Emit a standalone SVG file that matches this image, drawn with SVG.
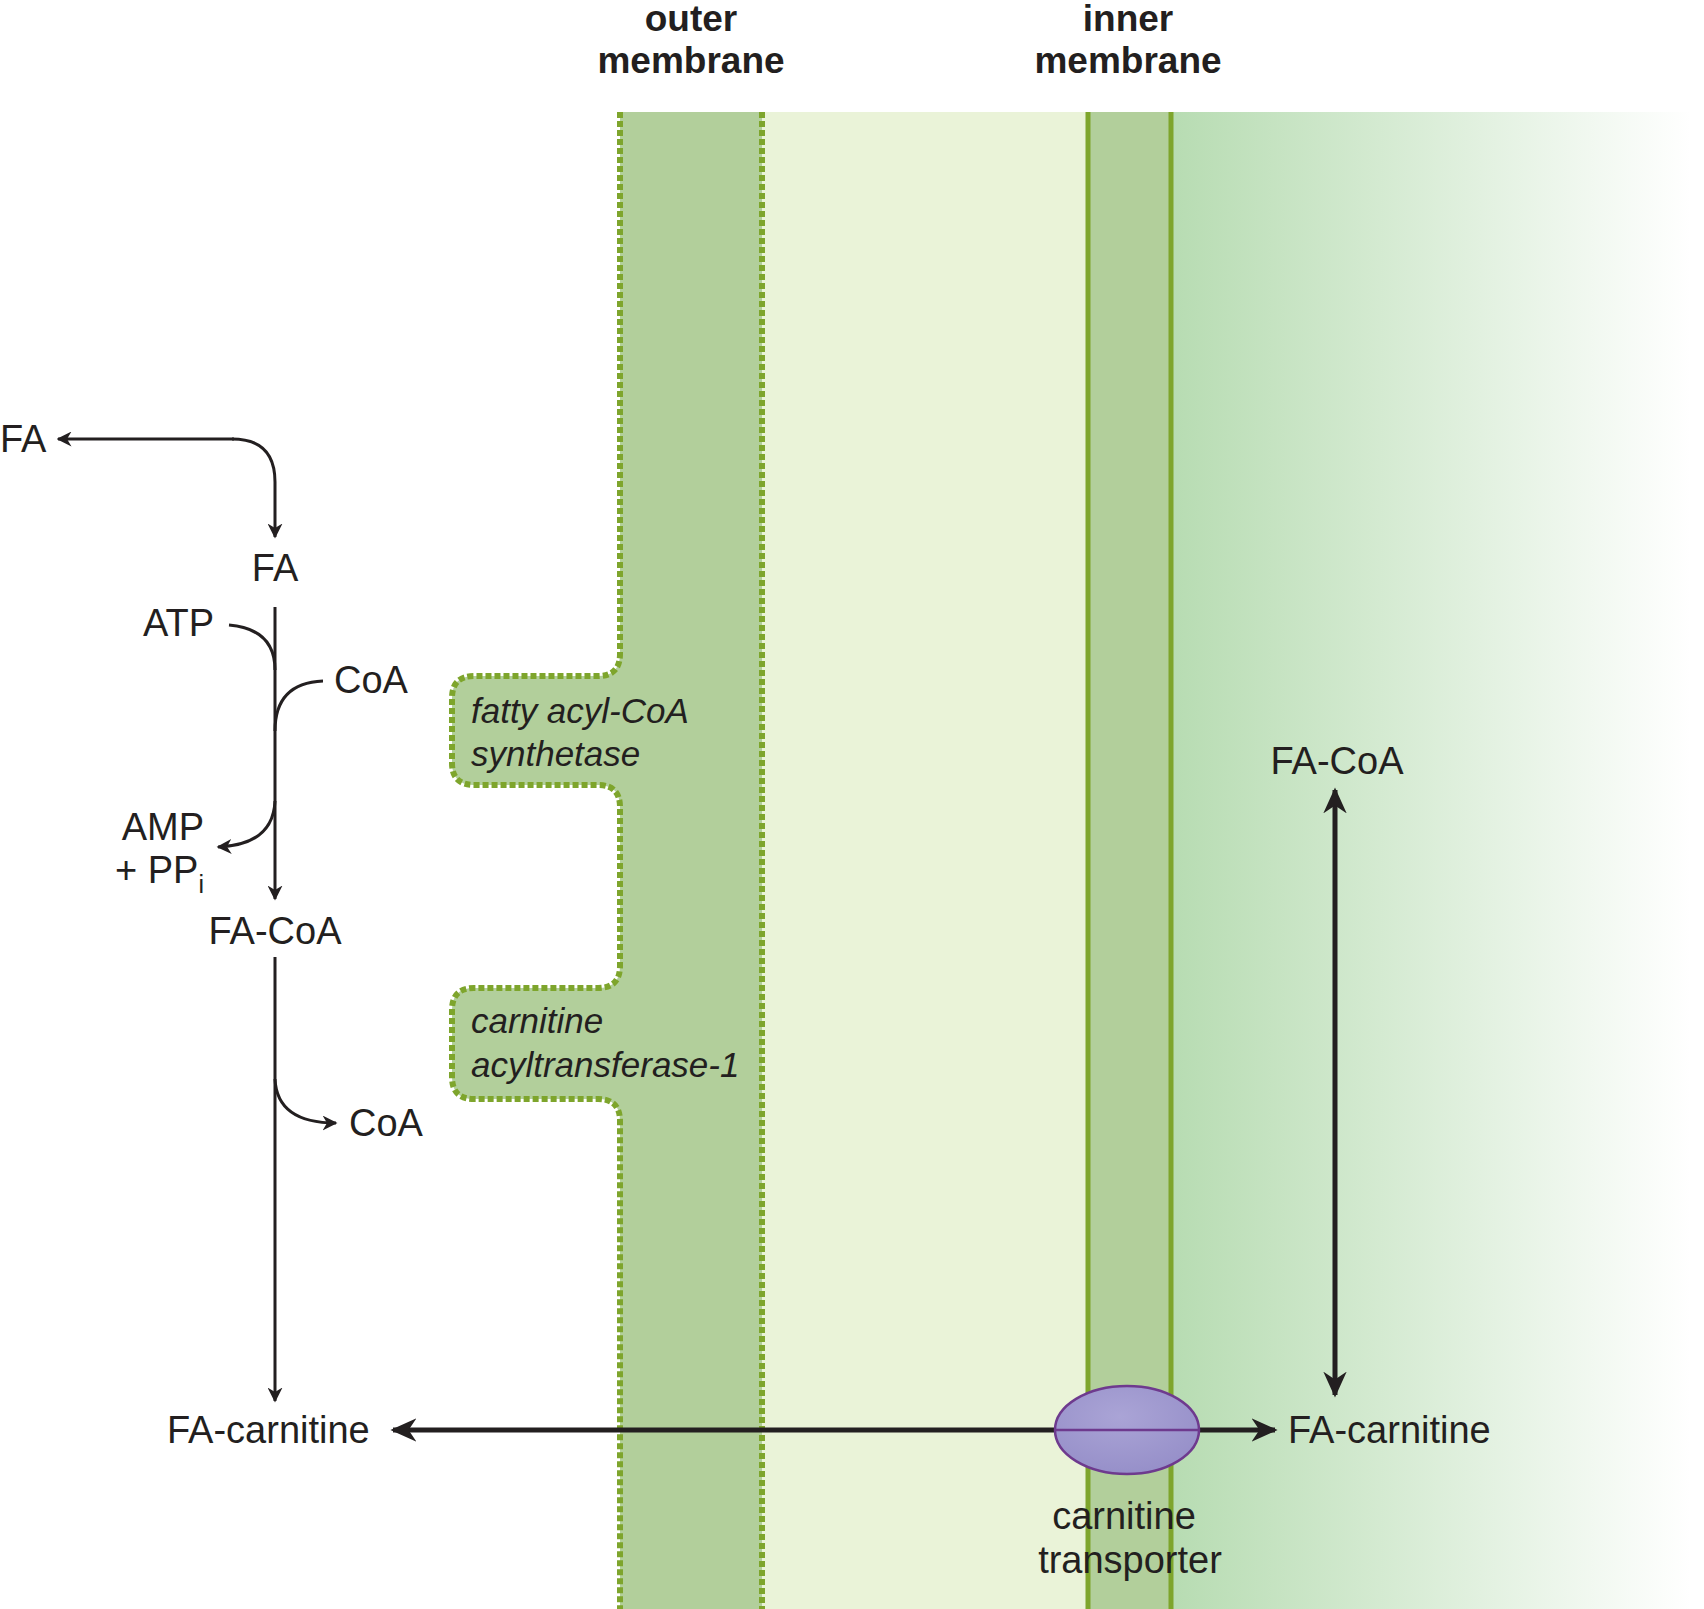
<svg xmlns="http://www.w3.org/2000/svg" width="1704" height="1609" viewBox="0 0 1704 1609">
<defs>
<linearGradient id="mx" x1="0" y1="0" x2="1" y2="0"><stop offset="0" stop-color="#b7dcb2"/><stop offset="1" stop-color="#ffffff"/></linearGradient>
<radialGradient id="tr" cx="0.45" cy="0.35" r="0.7"><stop offset="0" stop-color="#aaa4d6"/><stop offset="1" stop-color="#958ec8"/></radialGradient>
<marker id="ah" viewBox="0 0 10 10" refX="9" refY="5" markerWidth="15" markerHeight="15" markerUnits="userSpaceOnUse" orient="auto"><path d="M0,0 L10,5 L0,10 L3,5 Z" fill="#231f20"/></marker>
<marker id="ahs" viewBox="0 0 10 10" refX="9" refY="5" markerWidth="26" markerHeight="26" markerUnits="userSpaceOnUse" orient="auto"><path d="M0,0.5 L10,5 L0,9.5 L3,5 Z" fill="#231f20"/></marker>
</defs>
<style>
text{font-family:"Liberation Sans",Arial,sans-serif;fill:#231f20;font-size:38px}
.b{font-weight:bold;font-size:37px}
.i{font-style:italic;font-size:35px}
.ln{fill:none;stroke:#231f20;stroke-width:3}
.th{fill:none;stroke:#231f20;stroke-width:5}
.dot{fill:none;stroke:#7ea52c;stroke-width:6;stroke-dasharray:6 3}
</style>
<g id="compartments">
<rect x="762" y="112" width="324" height="1497" fill="#eaf3d8"/>
<rect x="1171" y="112" width="520" height="1497" fill="url(#mx)"/>
<rect x="1086" y="112" width="85" height="1497" fill="#b2cf9b"/>
<line x1="1088" y1="112" x2="1088" y2="1609" stroke="#7ea52c" stroke-width="5"/>
<line x1="1171" y1="112" x2="1171" y2="1609" stroke="#7ea52c" stroke-width="5"/>
</g>
<g id="outer-membrane">
<path d="M620,112 V654 q0,22 -22,22 H474 q-22,0 -22,22 V763 q0,22 22,22 H598 q22,0 22,22 V966 q0,22 -22,22 H474 q-22,0 -22,22 V1077 q0,22 22,22 H598 q22,0 22,22 V1609 H762 V112 Z" fill="#b2cf9b"/>
<path class="dot" d="M620,112 V654 q0,22 -22,22 H474 q-22,0 -22,22 V763 q0,22 22,22 H598 q22,0 22,22 V966 q0,22 -22,22 H474 q-22,0 -22,22 V1077 q0,22 22,22 H598 q22,0 22,22 V1609"/>
<line class="dot" x1="762" y1="112" x2="762" y2="1609"/>
</g>
<g id="labels-membranes">
<text class="b" x="691" y="31" text-anchor="middle">outer</text>
<text class="b" x="691" y="73" text-anchor="middle">membrane</text>
<text class="b" x="1128" y="31" text-anchor="middle">inner</text>
<text class="b" x="1128" y="73" text-anchor="middle">membrane</text>
</g>
<g id="enzyme-synthetase"><text class="i" x="471" y="723">fatty acyl-CoA</text><text class="i" x="471" y="766">synthetase</text></g>
<g id="enzyme-cat1"><text class="i" x="471" y="1033">carnitine</text><text class="i" x="471" y="1077">acyltransferase-1</text></g>
<g id="connectors">
<path class="ln" d="M234,439 H58" marker-end="url(#ah)"/>
<path class="ln" d="M232,439 q43,0 43,43 V537" marker-end="url(#ah)"/>
<path class="ln" d="M275,607 V899" marker-end="url(#ah)"/>
<path class="ln" d="M229,625 q46,4 46,45"/>
<path class="ln" d="M323,681 q-48,2 -48,50"/>
<path class="ln" d="M275,801 q-2,44 -57,46" marker-end="url(#ah)"/>
<path class="ln" d="M275,957 V1401" marker-end="url(#ah)"/>
<path class="ln" d="M275,1079 q2,44 61,44" marker-end="url(#ah)"/>
<path class="th" d="M1055,1430 H393" marker-end="url(#ahs)"/>
<path class="th" d="M1199,1430 H1275" marker-end="url(#ahs)"/>
<path class="th" d="M1335,1100 V790" marker-end="url(#ahs)"/>
<path class="th" d="M1335,1100 V1395" marker-end="url(#ahs)"/>
</g>
<g id="transporter">
<ellipse cx="1127" cy="1430" rx="72" ry="44" fill="url(#tr)" stroke="#6e3a8e" stroke-width="2.5"/>
<line x1="1055" y1="1430" x2="1199" y2="1430" stroke="#6e3a8e" stroke-width="2.5"/>
<text x="1124" y="1529" text-anchor="middle">carnitine</text>
<text x="1130" y="1573" text-anchor="middle">transporter</text>
</g>
<g id="n-fa-out"><text x="0" y="452">FA</text></g>
<g id="n-fa"><text x="275" y="581" text-anchor="middle">FA</text></g>
<g id="n-atp"><text x="214" y="636" text-anchor="end">ATP</text></g>
<g id="n-coa1"><text x="334" y="693">CoA</text></g>
<g id="n-amp"><text x="204" y="840" text-anchor="end">AMP</text><text x="204" y="883" text-anchor="end">+ PP<tspan font-size="25" dy="10">i</tspan></text></g>
<g id="n-facoa"><text x="275" y="944" text-anchor="middle">FA-CoA</text></g>
<g id="n-coa2"><text x="349" y="1136">CoA</text></g>
<g id="n-facarn-l"><text x="167" y="1443">FA-carnitine</text></g>
<g id="n-facarn-r"><text x="1288" y="1443">FA-carnitine</text></g>
<g id="n-facoa-r"><text x="1337" y="774" text-anchor="middle">FA-CoA</text></g>
</svg>
